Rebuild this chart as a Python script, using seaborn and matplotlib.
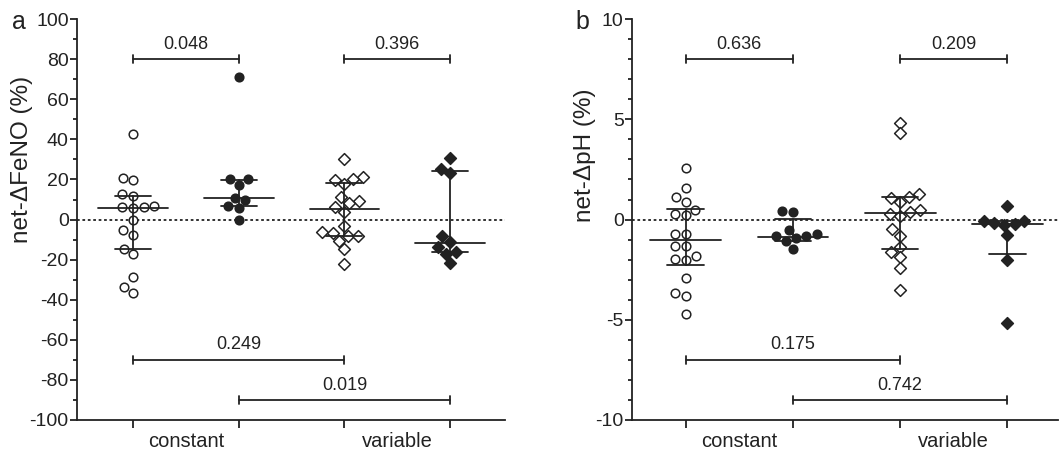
import numpy as np
import pandas as pd
import matplotlib
matplotlib.use("Agg")
import matplotlib.pyplot as plt
import seaborn as sns

# group order: constant/open, constant/filled, variable/open, variable/filled
groups = ["c_open", "c_fill", "v_open", "v_fill"]

# panel a: net-dFeNO (%)
a_c_open = [42.8, 20.8, 19.8, 12.5, 12.0, 7.0, 6.5, 6.3, 5.7, 0.0, -5.3, -7.5, -14.5, -17.0, -28.8, -33.8, -36.7]
a_c_fill = [71.0, 20.0, 20.0, 17.3, 10.8, 10.0, 6.7, 6.0, 0.0]
a_v_open = [30.0, 21.3, 20.0, 19.8, 17.5, 11.2, 9.3, 8.2, 6.3, 3.8, -3.0, -6.0, -6.7, -8.3, -8.3, -10.7, -14.8, -22.3]
a_v_fill = [30.5, 25.0, 23.0, -8.0, -11.3, -13.7, -16.3, -17.0, -21.5]
a_median = [6.0, 11.0, 5.5, -11.8]
a_q1 = [-14.7, 6.7, -8.3, -16.3]
a_q3 = [12.0, 19.8, 18.3, 24.3]
a_pvals = ["0.048", "0.396", "0.249", "0.019"]
a_pval_y = [80, 80, -70, -90]

# panel b: net-dpH (%)
b_c_open = [2.55, 1.58, 1.12, 0.87, 0.47, 0.28, 0.25, -0.7, -0.7, -1.3, -1.3, -1.83, -1.95, -2.0, -2.92, -3.67, -3.8, -4.7]
b_c_fill = [0.45, 0.38, -0.5, -0.72, -0.83, -0.83, -0.9, -1.08, -1.45]
b_v_open = [4.8, 4.3, 1.28, 1.15, 1.07, 0.87, 0.5, 0.38, 0.3, 0.17, -0.47, -0.8, -1.37, -1.62, -1.88, -2.42, -3.5]
b_v_fill = [0.67, -0.05, -0.05, -0.17, -0.2, -0.28, -0.75, -2.03, -5.15]
b_median = [-1.0, -0.87, 0.33, -0.22]
b_q1 = [-2.28, -1.05, -1.47, -1.72]
b_q3 = [0.55, 0.05, 1.12, -0.05]
b_pvals = ["0.636", "0.209", "0.175", "0.742"]
b_pval_y = [8, 8, -7, -9]

pval_pairs = [(0, 1), (2, 3), (0, 2), (1, 3)]

sns.set_style("ticks")
plt.rcParams["font.family"] = ["Liberation Sans", "DejaVu Sans"]
plt.rcParams["axes.unicode_minus"] = False

INK = "#222222"


def draw_panel(ax, series, median, q1, q3, pvals, pval_y, ylim, major, minor, ylabel, cap):
    df = pd.concat([pd.DataFrame({"group": g, "value": v}) for g, v in zip(groups, series)])
    styles = [("o", "white"), ("o", INK), ("D", "white"), ("D", INK)]
    for g, (mk, fc) in zip(groups, styles):
        sns.swarmplot(data=df[df.group == g], x="group", y="value", order=groups, ax=ax,
                      marker=mk, color=fc, edgecolor=INK, linewidth=1.1,
                      size=6.2 if mk == "o" else 6.0, zorder=3)

    # median with interquartile range
    for i in range(4):
        ax.plot([i - 0.33, i + 0.33], [median[i]] * 2, color=INK, lw=1.3, zorder=4)
        ax.plot([i - 0.17, i + 0.17], [q1[i]] * 2, color=INK, lw=1.3, zorder=4)
        ax.plot([i - 0.17, i + 0.17], [q3[i]] * 2, color=INK, lw=1.3, zorder=4)
        ax.plot([i, i], [q1[i], q3[i]], color=INK, lw=1.3, zorder=4)

    ax.axhline(0, color=INK, ls=(0, (1.5, 1.5)), lw=1.3, zorder=1)

    # p-value brackets
    for (x1, x2), p, y in zip(pval_pairs, pvals, pval_y):
        ax.plot([x1, x2], [y, y], color=INK, lw=1.3)
        ax.plot([x1, x1], [y - cap, y + cap], color=INK, lw=1.3)
        ax.plot([x2, x2], [y - cap, y + cap], color=INK, lw=1.3)
        ax.text((x1 + x2) / 2, y + cap * 1.6, p, ha="center", va="bottom", fontsize=13, color=INK)

    ax.set_ylim(*ylim)
    ax.set_yticks(np.arange(ylim[0], ylim[1] + 1, major))
    ax.set_yticks(np.arange(ylim[0], ylim[1] + 1, minor), minor=True)
    ax.set_xticks(range(4))
    ax.set_xticklabels([""] * 4)
    ax.set_xticks([0.5, 2.5], minor=True)
    ax.set_xticklabels(["constant", "variable"], minor=True, fontsize=14.5, color=INK)
    ax.tick_params(axis="x", which="minor", length=0, pad=9)
    ax.tick_params(axis="x", which="major", length=6, width=1.3, color=INK)
    ax.tick_params(axis="y", which="major", length=5, width=1.3, labelsize=14, color=INK,
                   labelcolor=INK, pad=1)
    ax.tick_params(axis="y", which="minor", length=3, width=1.3, color=INK)
    ax.set_xlabel("")
    ax.set_ylabel(ylabel, fontsize=17.5, color=INK)
    sns.despine(ax=ax)
    for s in ["left", "bottom"]:
        ax.spines[s].set_linewidth(1.3)
        ax.spines[s].set_color(INK)


fig = plt.figure(figsize=(10.61, 4.54), dpi=100)
ax_a = fig.add_axes([0.0726, 0.0749, 0.4034, 0.883])
ax_b = fig.add_axes([0.5957, 0.0749, 0.4013, 0.883])

draw_panel(ax_a, [a_c_open, a_c_fill, a_v_open, a_v_fill], a_median, a_q1, a_q3,
           a_pvals, a_pval_y, (-100, 100), 20, 10, "net-\u0394FeNO (%)", 2.0)
ax_a.set_xlim(-0.53, 3.52)
ax_a.yaxis.set_label_coords(-0.103, 0.65)

draw_panel(ax_b, [b_c_open, b_c_fill, b_v_open, b_v_fill], b_median, b_q1, b_q3,
           b_pvals, b_pval_y, (-10, 10), 5, 1, "net-\u0394pH (%)", 0.2)
ax_b.set_xlim(-0.5, 3.47)
ax_b.yaxis.set_label_coords(-0.085, 0.66)

fig.text(0.011, 0.936, "a", fontsize=18, color=INK, va="baseline")
fig.text(0.542, 0.936, "b", fontsize=18, color=INK, va="baseline")

fig.savefig("out.png", dpi=100)
